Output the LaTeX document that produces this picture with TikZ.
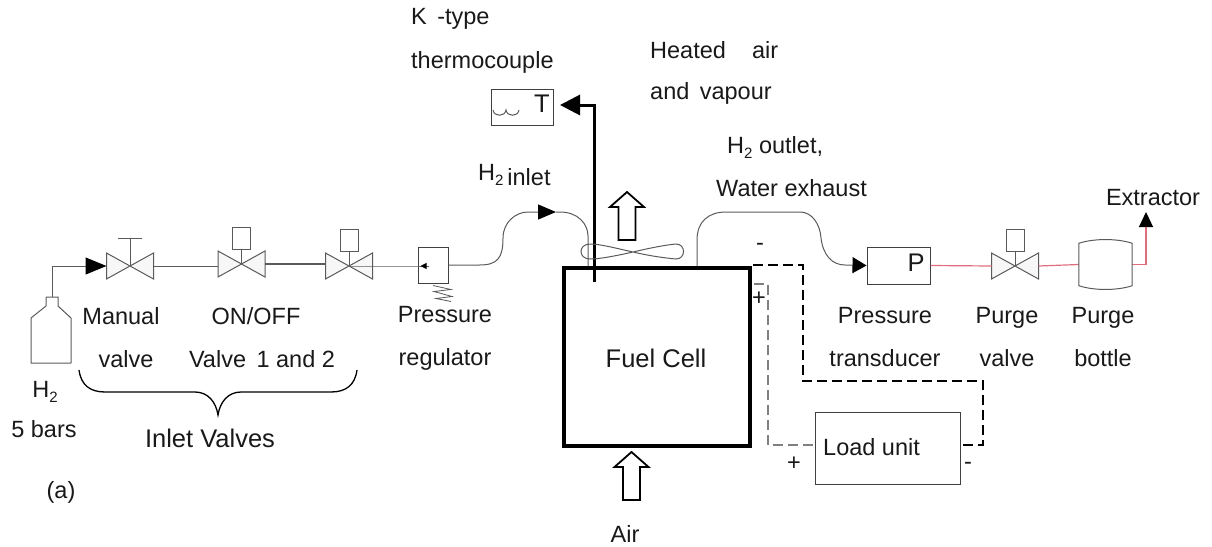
\documentclass[tikz,border=0pt]{standalone}
\usepackage{fontspec}
\setmainfont{Liberation Sans}
\usetikzlibrary{arrows.meta}
\definecolor{pipegray}{RGB}{90,90,90}
\definecolor{purgered}{RGB}{222,110,125}
\newcommand{\Htwo}{H\raisebox{-5pt}{\fontsize{15}{15}\selectfont 2}}
\tikzset{
  lbl/.style={align=center,inner sep=0pt,text=black!90,font=\fontsize{23.5}{43}\selectfont},
  biglbl/.style={lbl,font=\fontsize{25.5}{43}\selectfont},
  part/.style={draw=pipegray,line width=1pt},
  pipe/.style={draw=pipegray,line width=1pt},
  redpipe/.style={draw=purgered,line width=1.2pt},
  box/.style={draw=black!75,line width=1pt,inner sep=0pt},
  blacktip/.style={-{Triangle[color=black,fill=black,#1]}},
  hollow/.pic={
    \draw[black,line width=1.8pt,fill=white] (0,0) -- (17,15) -- (8.5,15) -- (8.5,48) -- (-8.5,48) -- (-8.5,15) -- (-17,15) -- cycle;
  },
  valve/.pic={
    \draw[part,fill=black!3] (-23.5,-13) -- (23.5,13) -- (23.5,-13) -- (-23.5,13) -- cycle;
    \coordinate (-l) at (-23.5,0);
    \coordinate (-r) at (23.5,0);
    \coordinate (-c) at (0,0);
  },
  solenoid/.pic={
    \pic {valve};
    \draw[part] (0,0) -- (0,-15);
    \draw[part,fill=white] (-9,-15) rectangle (9,-37);
  },
  manual/.pic={
    \pic {valve};
    \draw[part] (0,0) -- (0,-28);
    \draw[part] (-12,-28) -- (12,-28);
  }
}
\begin{document}
\begin{tikzpicture}[x=1pt,y=-1pt]
  \useasboundingbox (0,0) rectangle (1212,546);
  % Nodes
  \coordinate (neck) at (52,297);
  \pic (v1) at (130,266) {manual};
  \pic (v2) at (241.5,264) {solenoid};
  \pic (v3) at (349,266) {solenoid};
  \pic (v4) at (1015,266) {solenoid};
  \node[box,minimum width=30pt,minimum height=36pt] (regulator) at (433,265) {};
  \node[box,minimum width=62pt,minimum height=36pt] (thermo) at (522,107) {};
  \node[biglbl] (thermot) at (542,104) {T};
  \node[draw=black,line width=4pt,minimum width=186pt,minimum height=178pt,inner sep=0pt] (cell) at (657,357) {};
  \node[biglbl] (celltext) at (656,358) {Fuel Cell};
  \node[box,minimum width=63pt,minimum height=37pt] (ptrans) at (898.5,265.5) {};
  \node[biglbl] (ptext) at (916,263) {P};
  \node[minimum width=53pt,minimum height=42pt,inner sep=0pt] (bottle) at (1105.5,264.5) {};
  \node[box,minimum width=145pt,minimum height=72pt] (load) at (887.5,448) {};
  \node[lbl,anchor=west] (loadtext) at (823,447) {Load unit};
  \pic at (627,192) {hollow};
  \pic at (631.5,452) {hollow};
  \coordinate (fan) at (633,252);
  \coordinate (extractor) at (1146,212);
  \coordinate (inlettip) at (556,212);
  \coordinate (inletend) at (588,266);
  \coordinate (outletstart) at (697,266);
  \coordinate (probe) at (594,282);
  \coordinate (probetip) at (560,105);
  \coordinate (minusend) at (753,265);
  \coordinate (plusend) at (754,284);

  % Labels
  \node[lbl,anchor=west] (ktype) at (411,19) {K \,-type};
  \node[lbl,anchor=west] (thermolbl) at (411,62) {thermocouple};
  \node[lbl,anchor=west] (heatedlbl) at (650,50) {Heated \ \ \ air};
  \node[lbl,anchor=west] (vapourlbl) at (650,93) {and \,vapour};
  \node[lbl,anchor=west] (outlet) at (727,147) {\Htwo\ outlet,};
  \node[lbl,anchor=west] (water) at (716,188) {Water exhaust};
  \node[lbl,anchor=west] (inlet) at (478,175) {\Htwo\,\raisebox{-5pt}{inlet}};
  \node[lbl] (extlbl) at (1153,198) {Extractor};
  \node[lbl] (manuallbl) at (121,338) {Manual\\\hspace*{10pt}valve};
  \node[lbl] (onofflbl) at (262,338) {\hspace*{-12pt}ON/OFF\\Valve \,1 and 2};
  \node[lbl] (reglbl) at (445,338) {Pressure\\regulator};
  \node[lbl] (translbl) at (885,337) {Pressure\\transducer};
  \node[lbl] (purgelbl) at (1007,337) {Purge\\valve};
  \node[lbl] (bottlelbl) at (1103,337) {Purge\\bottle};
  \node[lbl] (h2lbl) at (45,392) {\Htwo};
  \node[lbl] (barslbl) at (44,429) {5 bars};
  \node[biglbl] (inletvalves) at (210,438) {Inlet Valves};
  \node[lbl] (alabel) at (61,492) {(a)};
  \node[lbl] (airlbl) at (625,534) {Air};
  \node[lbl] (minustop) at (760,247) {-};
  \node[lbl] (plustop) at (759,299) {+};
  \node[lbl] (plusload) at (794,464) {+};
  \node[lbl] (minusload) at (968,466) {-};

  % Edges
  \draw[pipe,blacktip={length=21pt,width=17pt}] (neck) |- (v1-l);
  \draw[pipe] (v1-r) -- (v2-l |- v1-r);
  \draw[pipe,line width=1.6pt] (v2-r) -- (v3-l |- v2-r);
  \draw[pipe] (v3-c) -- (regulator.west |- v3-c) -- ++(4,0);
  \draw[pipe,blacktip={length=6pt,width=6pt}] (regulator.west |- v3-c) ++(11,0) -- ++(-8,0);
  \draw[pipe,blacktip={length=18pt,width=15pt}] (regulator.east) -- ++(31,0)
    .. controls +(18,0) and +(0,20) .. (503,238)
    .. controls +(0,-16) and +(-12,0) .. (528,212) -- (inlettip);
  \draw[pipe] (inlettip) -- (560,212) .. controls +(18,0) and +(0,-12) .. (588,236) -- (inletend);
  \draw[pipe,blacktip={length=14pt,width=16pt}] (outletstart) -- (697,240)
    .. controls (697,222) and (708,212) .. (726,212) -- (800,212)
    .. controls (812,212) and (820,224) .. (821,238)
    .. controls (823,255) and (832,265) .. (845,265) -- (ptrans.west);
  \draw[black,line width=3pt,blacktip={length=20pt,width=20pt}] (probe) -- (594,105) -- (probetip);
  \draw[redpipe] (ptrans.east) -- (v4-l);
  \draw[redpipe] (v4-r) -- (bottle.west);
  \draw[redpipe,blacktip={length=15pt,width=14pt}] (bottle.east) -| (extractor);
  \draw[black,line width=2.6pt,dash pattern=on 10pt off 5pt] (minusend) -- (803,265) -- (803,381) -- (983,381) -- (983,445) -- (load.east |- 983,445);
  \draw[black!50,line width=2.2pt,dash pattern=on 10pt off 5pt] (plusend) -- (768,284) -- (768,445) -- (load.west |- 768,445);

  % Shapes
  \draw[part] (neck) ++(-6,0) -- ++(12,0) -- ++(0,9) -- (71,318) -- (71,363) (neck) ++(-6,0) -- ++(0,9) -- (31,318) -- (31,363) -- (71,363);
  \draw[part] (bottle.north west) .. controls +(15,-5) and +(-15,-5) .. (bottle.north east) -- (bottle.south east) .. controls +(-15,5) and +(15,5) .. (bottle.south west) -- cycle;
  \draw[part] (493,110) .. controls (494,117) and (505,117) .. (506,110) .. controls (507,117) and (518,117) .. (519,110);
  \draw[part,line width=.8pt] (regulator.south) ++(0,2) -- ++(18,4) -- ++(-17,2) -- ++(18,5) -- ++(-16,2) -- ++(15,3);
  \draw[part] (fan) .. controls (615,248) and (600,244) .. (590,244) .. controls (578,244) and (578,259) .. (590,259) .. controls (600,259) and (615,256) .. (fan)
    .. controls (650,248) and (665,245) .. (676,244) .. controls (686,244) and (686,259) .. (676,259) .. controls (665,258) and (650,256) .. (fan);
  \draw[black,line width=1.3pt] (79,370) .. controls (81,385) and (90,392) .. (105,392) -- (195,392) .. controls (208,392) and (216,402) .. (218,415)
    .. controls (220,402) and (228,392) .. (241,392) -- (331,392) .. controls (346,392) and (355,385) .. (357,370);
\end{tikzpicture}
\end{document}
